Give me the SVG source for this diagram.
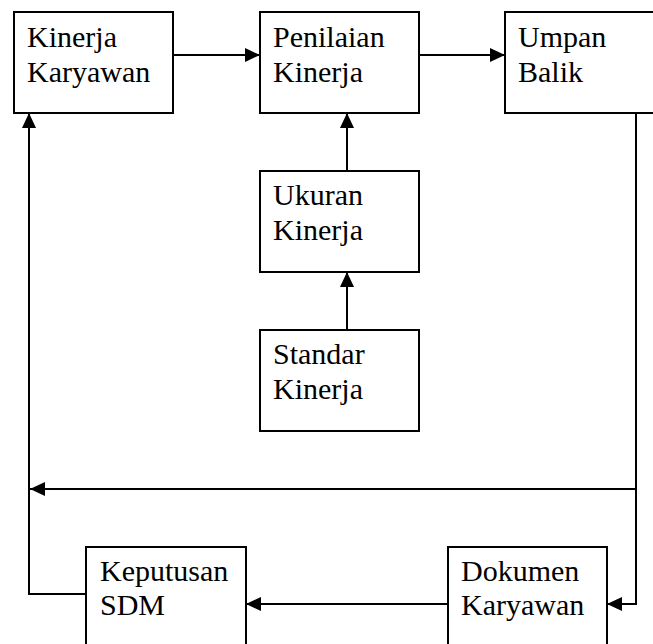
<svg xmlns="http://www.w3.org/2000/svg" width="653" height="644" viewBox="0 0 653 644">
<defs>
<style>
.box{fill:#fff;stroke:#000;stroke-width:2}
.ln{fill:none;stroke:#000;stroke-width:2}
text{font-family:"Liberation Serif","Times New Roman",serif;font-size:30px;fill:#000}
</style>
<marker id="ah" viewBox="0 0 15 14" refX="15" refY="7" markerWidth="15" markerHeight="14" markerUnits="userSpaceOnUse" orient="auto">
<path d="M0,0 L15,7 L0,14 Z" fill="#000"/>
</marker>
</defs>
<rect width="653" height="644" fill="#fff"/>
<g id="connectors">
<line class="ln" x1="173" y1="55" x2="260" y2="55" marker-end="url(#ah)"/>
<line class="ln" x1="419" y1="55" x2="505" y2="55" marker-end="url(#ah)"/>
<line class="ln" x1="347" y1="171" x2="347" y2="113" marker-end="url(#ah)"/>
<line class="ln" x1="347" y1="330" x2="347" y2="272" marker-end="url(#ah)"/>
<polyline class="ln" points="636,113 636,604 607,604" marker-end="url(#ah)"/>
<line class="ln" x1="636" y1="489" x2="30" y2="489" marker-end="url(#ah)"/>
<polyline class="ln" points="86,594 29,594 29,113" marker-end="url(#ah)"/>
<line class="ln" x1="448" y1="604" x2="246" y2="604" marker-end="url(#ah)"/>
</g>
<g id="kinerja-karyawan"><rect class="box" x="14" y="12" width="159" height="101"/><text x="27" y="47">Kinerja</text><text x="27" y="82">Karyawan</text></g>
<g id="penilaian-kinerja"><rect class="box" x="260" y="12" width="159" height="101"/><text x="273" y="47">Penilaian</text><text x="273" y="82">Kinerja</text></g>
<g id="umpan-balik"><rect class="box" x="505" y="12" width="170" height="101"/><text x="518" y="47">Umpan</text><text x="518" y="82">Balik</text></g>
<g id="ukuran-kinerja"><rect class="box" x="260" y="171" width="159" height="101"/><text x="273" y="205">Ukuran</text><text x="273" y="240">Kinerja</text></g>
<g id="standar-kinerja"><rect class="box" x="260" y="330" width="159" height="101"/><text x="273" y="364">Standar</text><text x="273" y="399">Kinerja</text></g>
<g id="keputusan-sdm"><rect class="box" x="86" y="547" width="160" height="110"/><text x="100" y="581">Keputusan</text><text x="100" y="615">SDM</text></g>
<g id="dokumen-karyawan"><rect class="box" x="448" y="547" width="159" height="110"/><text x="461" y="581">Dokumen</text><text x="461" y="615">Karyawan</text></g>
</svg>
